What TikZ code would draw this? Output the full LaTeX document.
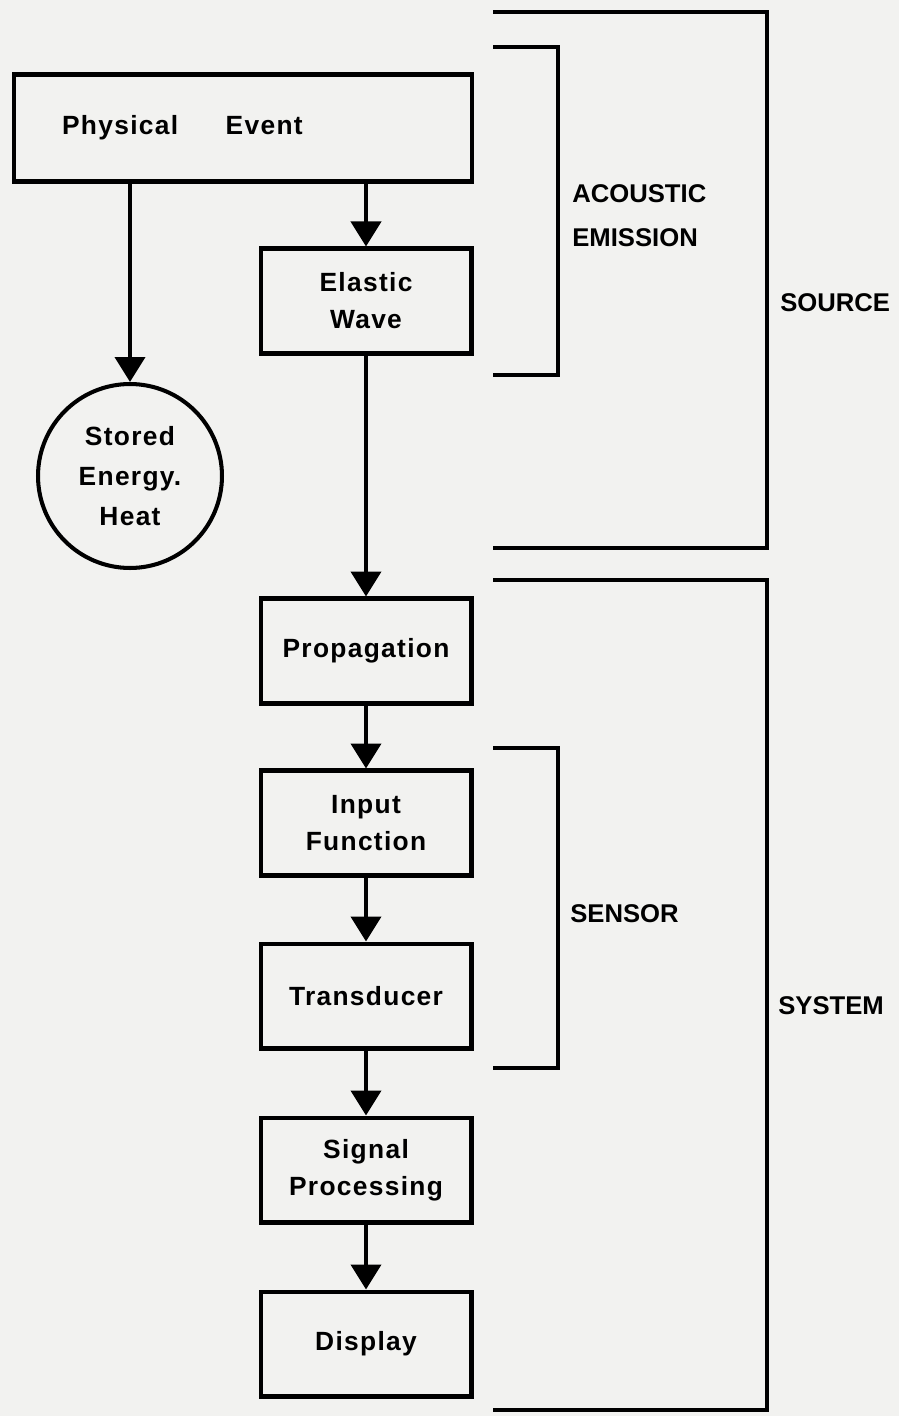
\documentclass[tikz,border=0pt]{standalone}
\usepackage{fontspec}
\setmainfont{Liberation Sans}
\newfontfamily\spaziato{Liberation Sans}[LetterSpace=5]
\usetikzlibrary{arrows.meta, positioning}
\definecolor{carta}{RGB}{242,242,240}

\begin{document}
\begin{tikzpicture}[x = 0.02cm, y = -0.02cm,
    every node/.style = {font = \spaziato\fontsize{15}{21}\selectfont\bfseries},
    blocco/.style = {draw, line width = 2.3pt, minimum width = 4.22cm, minimum height = 2.1cm, align = center, inner sep = 0pt},
    freccia/.style = {line width = 2.3pt, -{Triangle[width = 0.6cm, length = 0.5cm]}},
    parentesi/.style = {line width = 2.5pt, line join = miter},
    etichetta/.style = {anchor = west, align = left, inner sep = 0pt, font = \rmfamily\fontsize{14.6}{25}\selectfont\bfseries}]
    % Sfondo
    \fill[carta] (0,0) rectangle (899,1416);
    \useasboundingbox (0,0) rectangle (899,1416);
    % Blocchi
    \node[blocco, minimum width = 9.16cm, minimum height = 2.14cm, text width = 7.24cm, align = left] (PE) at (243,128) {Physical\hspace{0.95cm}Event};
    \node[blocco] (EW) at (366,301) {Elastic\\Wave};
    \node[draw, circle, line width = 2.3pt, minimum size = 3.68cm, inner sep = 0pt, align = center, font = \spaziato\fontsize{15}{23}\selectfont\bfseries] (SE) at (130,476) {Stored\\Energy.\\Heat};
    \node[blocco] (PR) at (366,651) {Propagation};
    \node[blocco] (IF) at (366,823) {Input\\Function};
    \node[blocco] (TR) at (366,996) {Transducer};
    \node[blocco] (SP) at (366,1170) {Signal\\Processing};
    \node[blocco] (DI) at (366,1344) {Display};
    % Frecce
    \draw[freccia] (PE.south -| EW.north) -- (EW.north);
    \draw[freccia] (PE.south -| SE.north) -- (SE.north);
    \foreach \a/\b in {EW/PR, PR/IF, IF/TR, TR/SP, SP/DI}{
        \draw[freccia] (\a) -- (\b);
    }
    % Parentesi: emissione acustica
    \draw[parentesi] (493,47) -- (558,47) -- (558,375) -- (493,375);
    \node[etichetta] (AE) at (572,216) {ACOUSTIC\\EMISSION};
    % Parentesi: sorgente
    \draw[parentesi] (493,12) -- (767,12) -- (767,548) -- (493,548);
    \node[etichetta] (SO) at (780,303) {SOURCE};
    % Parentesi: sensore
    \draw[parentesi] (493,748) -- (558,748) -- (558,1068) -- (493,1068);
    \node[etichetta] (SN) at (570,914) {SENSOR};
    % Parentesi: sistema
    \draw[parentesi] (493,580) -- (767,580) -- (767,1410) -- (493,1410);
    \node[etichetta] (SY) at (778,1006) {SYSTEM};
\end{tikzpicture}
\end{document}
